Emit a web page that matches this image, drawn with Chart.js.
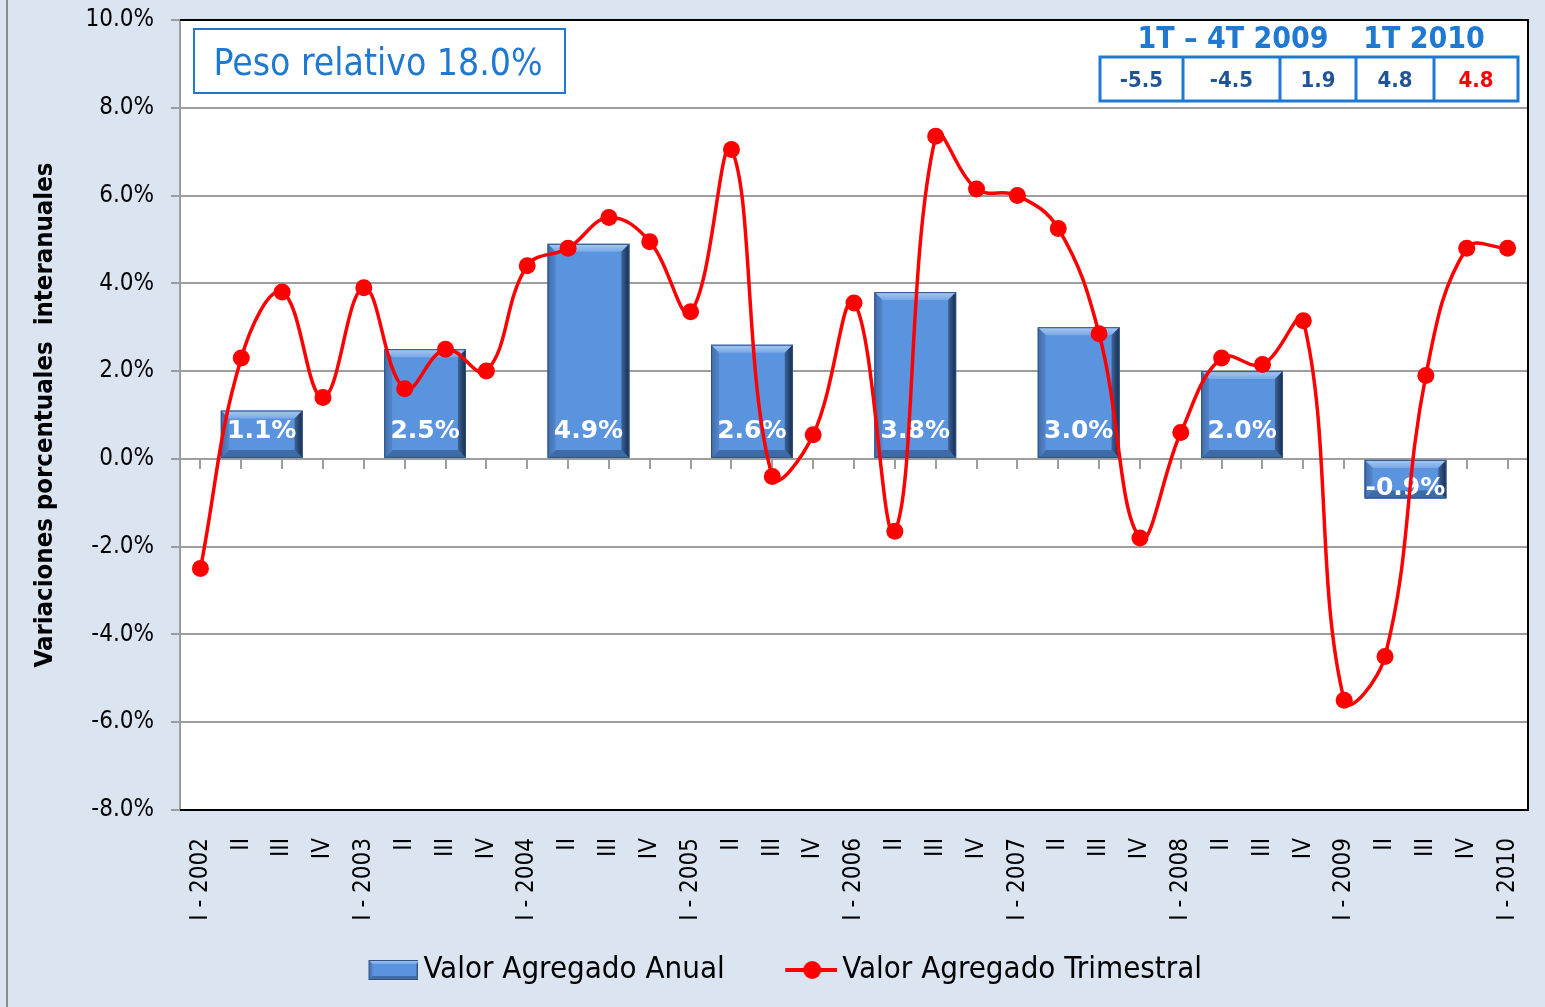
<!DOCTYPE html>
<html>
<head>
<meta charset="utf-8">
<script src="https://cdn.jsdelivr.net/npm/chart.js@4.4.1/dist/chart.umd.min.js"></script>
<style>
  html, body { margin: 0; padding: 0; background: #dbe5f1; }
  #chart { display: block; }
</style>
</head>
<body>
<canvas id="chart" width="1545" height="1007"></canvas>
<script>
// quarterly series, I-2002 .. I-2010
var quarterLabels = [
  'I - 2002', 'II', 'III', 'IV', 'I - 2003', 'II', 'III', 'IV',
  'I - 2004', 'II', 'III', 'IV', 'I - 2005', 'II', 'III', 'IV',
  'I - 2006', 'II', 'III', 'IV', 'I - 2007', 'II', 'III', 'IV',
  'I - 2008', 'II', 'III', 'IV', 'I - 2009', 'II', 'III', 'IV',
  'I - 2010'
];
var quarterValues = [
  -2.5, 2.3, 3.8, 1.4, 3.9, 1.6, 2.5, 2.0,
  4.4, 4.8, 5.5, 4.95, 3.35, 7.05, -0.4, 0.55,
  3.55, -1.65, 7.35, 6.15, 6.0, 5.25, 2.85, -1.8,
  0.6, 2.3, 2.15, 3.15, -5.5, -4.5, 1.9, 4.8,
  4.8
];
// annual bars sit between quarters II and III of each year
var yearPositions = [1.5, 5.5, 9.5, 13.5, 17.5, 21.5, 25.5, 29.5];
var yearValues = [1.1, 2.5, 4.9, 2.6, 3.8, 3.0, 2.0, -0.9];

var tableHeaders = ['1T \u2013 4T 2009', '1T 2010'];
var tableValues = [-5.5, -4.5, 1.9, 4.8, 4.8];
var pesoRelativo = 18.0;

var FONT = "'DejaVu Sans Condensed', 'Liberation Sans Narrow', 'DejaVu Sans', sans-serif";
var BLUE = '#1f78d2';

function drawBevel(ctx, left, top, right, bottom, b) {
  ctx.save();
  ctx.fillStyle = '#5b94de';
  ctx.fillRect(left, top, right - left, bottom - top);
  // top
  var g = ctx.createLinearGradient(0, top, 0, top + b);
  g.addColorStop(0, '#a9c9f2');
  g.addColorStop(1, '#78a8e6');
  ctx.fillStyle = g;
  ctx.beginPath();
  ctx.moveTo(left, top); ctx.lineTo(right, top); ctx.lineTo(right - b, top + b); ctx.lineTo(left + b, top + b);
  ctx.closePath(); ctx.fill();
  // bottom
  ctx.fillStyle = '#3e6aa6';
  ctx.beginPath();
  ctx.moveTo(left, bottom); ctx.lineTo(right, bottom); ctx.lineTo(right - b, bottom - b); ctx.lineTo(left + b, bottom - b);
  ctx.closePath(); ctx.fill();
  // left
  g = ctx.createLinearGradient(left, 0, left + b, 0);
  g.addColorStop(0, '#3f6cab');
  g.addColorStop(1, '#5586c9');
  ctx.fillStyle = g;
  ctx.beginPath();
  ctx.moveTo(left, top); ctx.lineTo(left + b, top + b); ctx.lineTo(left + b, bottom - b); ctx.lineTo(left, bottom);
  ctx.closePath(); ctx.fill();
  // right
  g = ctx.createLinearGradient(right - b, 0, right, 0);
  g.addColorStop(0, '#3d649c');
  g.addColorStop(1, '#162a48');
  ctx.fillStyle = g;
  ctx.beginPath();
  ctx.moveTo(right, top); ctx.lineTo(right - b, top + b); ctx.lineTo(right - b, bottom - b); ctx.lineTo(right, bottom);
  ctx.closePath(); ctx.fill();
  ctx.strokeStyle = '#2f5282';
  ctx.lineWidth = 1;
  ctx.strokeRect(left + 0.5, top + 0.5, right - left - 1, bottom - top - 1);
  ctx.restore();
}

// legend swatches
function makeBarSwatch() {
  var c = document.createElement('canvas');
  c.width = 113; c.height = 22;
  drawBevel(c.getContext('2d'), 63, 1, 115, 21, 4);
  return c;
}
function makeLineSwatch() {
  var c = document.createElement('canvas');
  c.width = 113; c.height = 22;
  var ctx = c.getContext('2d');
  ctx.strokeStyle = '#ff0000';
  ctx.lineWidth = 4;
  ctx.beginPath(); ctx.moveTo(61, 11); ctx.lineTo(113, 11); ctx.stroke();
  ctx.fillStyle = '#ff0000';
  ctx.beginPath(); ctx.arc(88, 11, 9, 0, Math.PI * 2); ctx.fill();
  return c;
}
var swatches = [makeBarSwatch(), makeLineSwatch()];

var backgroundPlugin = {
  id: 'backgroundPlugin',
  beforeDraw: function (chart) {
    var ctx = chart.ctx, a = chart.chartArea;
    ctx.save();
    ctx.fillStyle = '#dbe5f1';
    ctx.fillRect(0, 0, chart.width, chart.height);
    ctx.fillStyle = '#8c8c8c';
    ctx.fillRect(6, 0, 2, chart.height);
    ctx.fillStyle = '#ffffff';
    ctx.fillRect(a.left, a.top, a.right - a.left, a.bottom - a.top);
    ctx.restore();
  },
  beforeDatasetsDraw: function (chart) {
    var ctx = chart.ctx, a = chart.chartArea;
    ctx.save();
    ctx.strokeStyle = '#000000';
    ctx.lineWidth = 2;
    ctx.beginPath();
    ctx.moveTo(a.left, a.top); ctx.lineTo(a.right, a.top);
    ctx.lineTo(a.right, a.bottom); ctx.lineTo(a.left, a.bottom);
    ctx.stroke();
    ctx.restore();
  }
};

var barStylePlugin = {
  id: 'barStylePlugin',
  afterDatasetDraw: function (chart, args) {
    if (args.index !== 0) return;
    var ctx = chart.ctx;
    args.meta.data.forEach(function (bar, i) {
      var p = bar.getProps(['x', 'y', 'base', 'width'], true);
      var left = p.x - p.width / 2, right = p.x + p.width / 2;
      var top = Math.min(p.y, p.base), bottom = Math.max(p.y, p.base);
      drawBevel(ctx, left, top, right, bottom, Math.min(8, (bottom - top) / 2));
      var v = yearValues[i];
      ctx.save();
      ctx.font = "bold 25px 'DejaVu Sans', sans-serif";
      ctx.fillStyle = '#ffffff';
      ctx.textAlign = 'center';
      ctx.textBaseline = 'middle';
      ctx.fillText(v.toFixed(1) + '%', p.x, v >= 0 ? p.base - 26 : p.base + 29);
      ctx.restore();
    });
  }
};

var annotationPlugin = {
  id: 'annotationPlugin',
  afterDraw: function (chart) {
    var ctx = chart.ctx;
    ctx.save();
    // "Peso relativo" box
    ctx.fillStyle = '#ffffff';
    ctx.fillRect(193, 28, 372, 65);
    ctx.strokeStyle = BLUE;
    ctx.lineWidth = 2;
    ctx.strokeRect(194, 29, 371, 64);
    ctx.fillStyle = BLUE;
    ctx.font = '37px ' + FONT;
    ctx.textAlign = 'center';
    ctx.textBaseline = 'alphabetic';
    ctx.fillText('Peso relativo ' + pesoRelativo.toFixed(1) + '%', 378, 75);

    // 2009 / 2010 table
    ctx.font = 'bold 30px ' + FONT;
    ctx.fillText(tableHeaders[0], 1233, 48);
    ctx.fillText(tableHeaders[1], 1424, 48);
    var cols = [1100, 1183, 1280, 1356, 1434, 1518];
    ctx.fillStyle = '#ffffff';
    ctx.fillRect(1100, 57, 418, 44);
    ctx.strokeStyle = BLUE;
    ctx.lineWidth = 3;
    ctx.strokeRect(1100, 57, 418, 44);
    for (var i = 1; i < cols.length - 1; i++) {
      ctx.beginPath(); ctx.moveTo(cols[i], 57); ctx.lineTo(cols[i], 101); ctx.stroke();
    }
    ctx.font = 'bold 22px ' + FONT;
    tableValues.forEach(function (v, i) {
      ctx.fillStyle = i === tableValues.length - 1 ? '#ff0000' : '#1f5596';
      ctx.fillText(v.toFixed(1), (cols[i] + cols[i + 1]) / 2, 87);
    });
    ctx.restore();
  }
};

function noOverhang(s) {
  s.paddingTop = 0; s.paddingBottom = 0; s.paddingLeft = 0; s.paddingRight = 0;
}

new Chart(document.getElementById('chart'), {
  type: 'bar',
  data: {
    labels: quarterLabels,
    datasets: [
      {
        type: 'bar',
        label: 'Valor Agregado Anual',
        data: yearValues.map(function (v, i) { return { x: yearPositions[i], y: v }; }),
        xAxisID: 'xBar',
        backgroundColor: '#5b94de',
        borderWidth: 0,
        grouped: false,
        barPercentage: 1,
        categoryPercentage: 0.5,
        order: 1
      },
      {
        type: 'line',
        label: 'Valor Agregado Trimestral',
        data: quarterValues,
        xAxisID: 'x',
        borderColor: '#ff0000',
        backgroundColor: '#ff0000',
        borderWidth: 3.5,
        pointRadius: 8.5,
        pointBorderWidth: 0,
        pointBackgroundColor: '#ff0000',
        tension: 0.4,
        fill: false,
        order: 0
      }
    ]
  },
  options: {
    responsive: false,
    animation: false,
    devicePixelRatio: 1,
    layout: { padding: { left: -10, right: 17, top: 20, bottom: 11.5 } },
    scales: {
      x: {
        type: 'category',
        offset: true,
        grid: { display: false, drawTicks: false },
        border: { display: false },
        ticks: {
          autoSkip: false, maxRotation: 90, minRotation: 90, padding: 28,
          color: '#000000', font: { family: FONT, size: 24 }
        },
        afterFit: function (s) { s.height = 134.5; noOverhang(s); }
      },
      xBar: {
        type: 'linear',
        position: 'bottom',
        offset: false,
        min: -0.5,
        max: 32.5,
        grid: { display: false, drawTicks: false, offset: false },
        border: { display: false },
        ticks: { display: false },
        afterBuildTicks: function (s) {
          s.ticks = yearPositions.map(function (v) { return { value: v }; });
        },
        afterFit: function (s) { s.height = 0; noOverhang(s); }
      },
      xZero: {
        type: 'linear',
        position: { y: 0 },
        offset: false,
        min: -0.5,
        max: 32.5,
        afterBuildTicks: function (s) {
          s.ticks = quarterLabels.concat(['']).map(function (l, i) { return { value: i - 0.5 }; });
        },
        afterFit: noOverhang,
        grid: { drawOnChartArea: false, color: '#9d9d9d', lineWidth: 2, tickLength: 9 },
        border: { color: '#9d9d9d', width: 2 },
        ticks: { display: false }
      },
      y: {
        min: -8,
        max: 10,
        ticks: {
          stepSize: 2, padding: 17, color: '#000000',
          font: { family: FONT, size: 24 },
          callback: function (v) { return v.toFixed(1) + '%'; }
        },
        grid: { color: '#9d9d9d', lineWidth: 2, tickLength: 9 },
        border: { color: '#9d9d9d', width: 2 },
        title: {
          display: true,
          text: 'Variaciones porcentuales  interanuales',
          color: '#000000',
          font: { family: FONT, size: 25.5, weight: 'bold' },
          padding: { top: 40, bottom: 0 }
        },
        afterFit: function (s) { s.width = 190; noOverhang(s); }
      }
    },
    plugins: {
      tooltip: { enabled: false },
      legend: {
        position: 'bottom',
        labels: {
          usePointStyle: true,
          pointStyleWidth: 92,
          padding: 10,
          color: '#000000',
          font: { family: FONT, size: 31 },
          sort: function (a, b) { return a.datasetIndex - b.datasetIndex; },
          generateLabels: function (chart) {
            return Chart.defaults.plugins.legend.labels.generateLabels(chart).map(function (item) {
              item.pointStyle = swatches[item.datasetIndex];
              return item;
            });
          }
        }
      }
    }
  },
  plugins: [backgroundPlugin, barStylePlugin, annotationPlugin]
});
</script>
</body>
</html>
